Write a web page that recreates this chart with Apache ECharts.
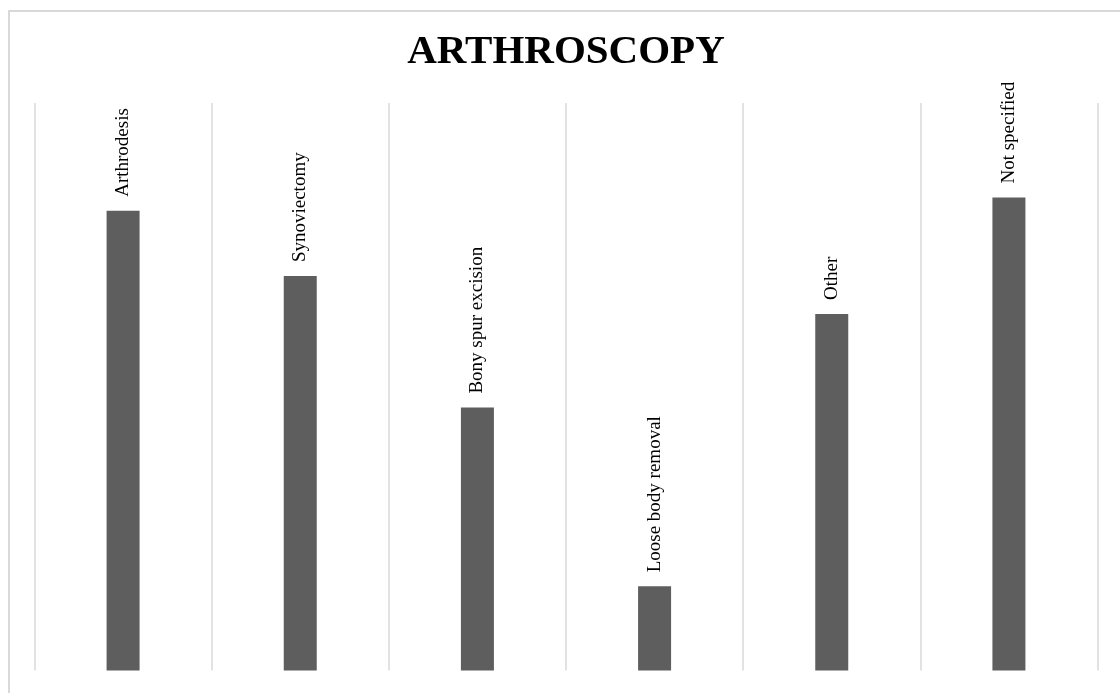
<!DOCTYPE html>
<html>
<head>
<meta charset="utf-8">
<script src="https://cdn.jsdelivr.net/npm/echarts@6/dist/echarts.min.js"></script>
<style>
  html, body { margin: 0; padding: 0; background: #fff; }
  #main { width: 1120px; height: 693px; }
</style>
</head>
<body>
<div id="main"></div>
<script>
// categories and values
var categories = ['Arthrodesis', 'Synoviectomy', 'Bony spur excision', 'Loose body removal', 'Other', 'Not specified'];
var values = [48.6, 41.7, 27.8, 8.9, 37.7, 50.0];
var yMax = 60;

var myChart = echarts.init(document.getElementById('main'));

var option = {
    backgroundColor: '#ffffff',
    animation: false,
    title: {
        text: 'ARTHROSCOPY',
        left: 561,
        textAlign: 'center',
        top: 27,
        textStyle: {
            fontFamily: 'Liberation Serif',
            fontWeight: 'bold',
            fontSize: 41,
            color: '#000000'
        }
    },
    // outer chart border (cut off at right and bottom)
    graphic: [{
        type: 'rect',
        silent: true,
        shape: { x: 9, y: 11, width: 1300, height: 900 },
        style: { fill: null, stroke: '#d9d9d9', lineWidth: 2 }
    }],
    grid: {
        left: 34.5,
        right: 22.5,
        top: 103,
        bottom: 22.5
    },
    xAxis: {
        type: 'category',
        data: categories,
        boundaryGap: true,
        axisLine: { show: false },
        axisTick: { show: false },
        axisLabel: { show: false },
        splitLine: {
            show: true,
            lineStyle: { color: '#d9d9d9', width: 1.5 }
        }
    },
    yAxis: {
        type: 'value',
        min: 0,
        max: yMax,
        show: false,
        splitLine: { show: false }
    },
    series: [{
        type: 'bar',
        data: values,
        barWidth: 33,
        itemStyle: { color: '#5e5e5e' },
        label: {
            show: true,
            position: 'top',
            distance: 14,
            rotate: 90,
            align: 'left',
            verticalAlign: 'middle',
            formatter: function (p) { return p.name; },
            fontFamily: 'Liberation Serif',
            fontSize: 19,
            color: '#000000'
        }
    }]
};

myChart.setOption(option);
</script>
</body>
</html>
